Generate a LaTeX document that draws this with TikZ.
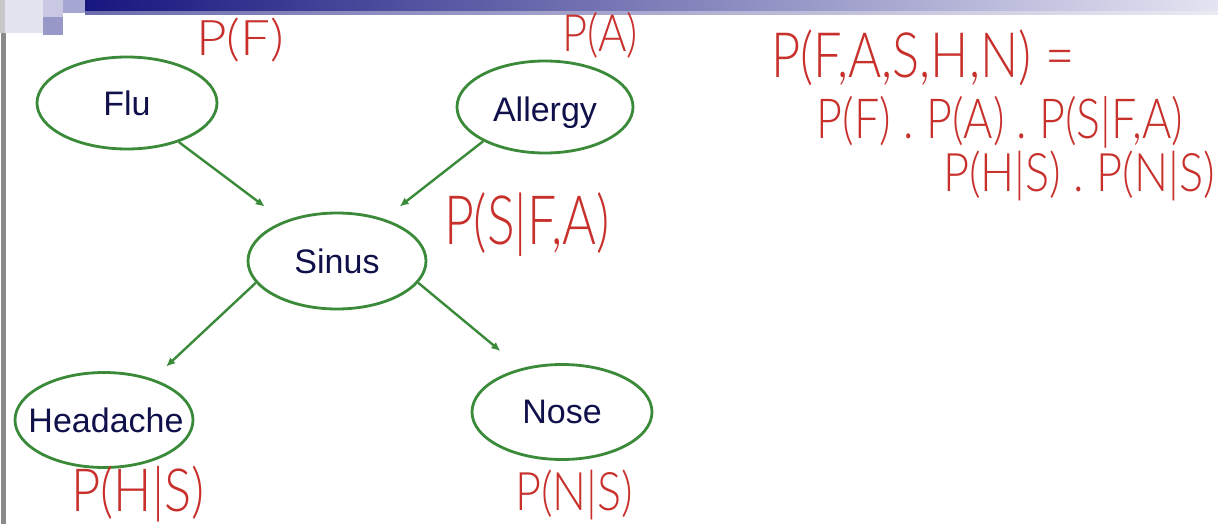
\documentclass[tikz,border=0pt]{standalone}
\usepackage{fontspec}
\usepackage{graphicx}
\usetikzlibrary{shapes.geometric,arrows.meta}
\newfontfamily\nodefont{Liberation Sans}
\newfontfamily\handfont{Lato}[UprightFont=* Light]
\definecolor{bngreen}{HTML}{3A8A3A}
\definecolor{bntext}{HTML}{10104A}
\definecolor{handred}{HTML}{C8302C}
\definecolor{barA}{HTML}{16167F}
\definecolor{barB}{HTML}{5A5AA8}
\definecolor{barC}{HTML}{E4E4F2}
\definecolor{stripA}{HTML}{6C6CAC}
\definecolor{stripC}{HTML}{EAEAF4}
\tikzset{
  bn/.style={ellipse, draw=bngreen, line width=2.8pt, minimum width=180pt,
    minimum height=92pt, inner sep=0pt, text=bntext, text depth=0pt,
    font=\nodefont\fontsize{34}{34}\selectfont},
  edge/.style={draw=bngreen, line width=2.4pt, -{Latex[length=9pt,width=8pt]}},
  hand/.style={text=handred, inner sep=0pt}
}
\newcommand{\hw}[3]{\resizebox*{#1pt}{#2pt}{\handfont\fontsize{40}{40}\selectfont #3}}
\begin{document}
\begin{tikzpicture}[x=1pt,y=-1pt]
\useasboundingbox[fill=white] (0,0) rectangle (1218,524);
% slide decoration
\shade[left color=barA, middle color=barB, right color=barC] (85,0) rectangle (1218,12);
\shade[left color=stripA, right color=stripC] (85,12) rectangle (1218,15);
\fill[color={rgb,255:red,228;green,228;blue,240}] (5,0) rectangle (43,33);
\fill[color={rgb,255:red,200;green,200;blue,226}] (43,0) rectangle (63,17);
\fill[color={rgb,255:red,166;green,166;blue,210}] (63,0) rectangle (85,13);
\fill[color={rgb,255:red,152;green,152;blue,200}] (43,17) rectangle (63,35);
\fill[color={rgb,255:red,200;green,200;blue,200}] (0,0) rectangle (5,33);
\fill[color={rgb,255:red,138;green,138;blue,138}] (1,33) rectangle (6,524);
% nodes
\node[bn] (flu) at (127,103) {\makebox[0pt]{Flu}};
\node[bn, minimum width=176pt] (allergy) at (545,107) {\makebox[0pt]{\raisebox{-4pt}{Allergy}}};
\node[bn, minimum width=178pt, minimum height=96pt] (sinus) at (337,261) {\makebox[0pt]{Sinus}};
\node[bn, minimum width=178pt, minimum height=95pt] (headache) at (104,420) {\makebox[0pt]{\hspace{4pt}Headache}};
\node[bn, minimum height=95pt] (nose) at (562,412) {\makebox[0pt]{Nose}};
% edges
\draw[edge, shorten >=24pt] (flu.-37) -- (sinus.143);
\draw[edge, shorten >=20pt] (allergy.-151) -- (sinus.42);
\draw[edge, shorten >=18pt] (sinus.195) -- (headache.40);
\draw[edge, shorten >=27pt] (sinus.-15.5) -- (nose.133);
% handwritten annotations
\node[hand] (pf) at (240,40) {\hw{88}{44}{P(F)}};
\node[hand] (pa) at (600,35) {\hw{76}{46}{P(A)}};
\node[hand] (psfa) at (527,225) {\hw{166}{64}{P(S|F,A)}};
\node[hand] (phs) at (138,494) {\hw{133}{56}{P(H|S)}};
\node[hand] (pns) at (574,495) {\hw{118}{50}{P(N|S)}};
\node[hand] (l1) at (923,58) {\hw{303}{56}{P(F,A,S,H,N) =}};
\node[hand] (l2) at (1000,122) {\hw{366}{52}{P(F) . P(A) . P(S|F,A)}};
\node[hand] (l3) at (1079,176) {\hw{272}{50}{P(H|S) . P(N|S)}};
\end{tikzpicture}
\end{document}
